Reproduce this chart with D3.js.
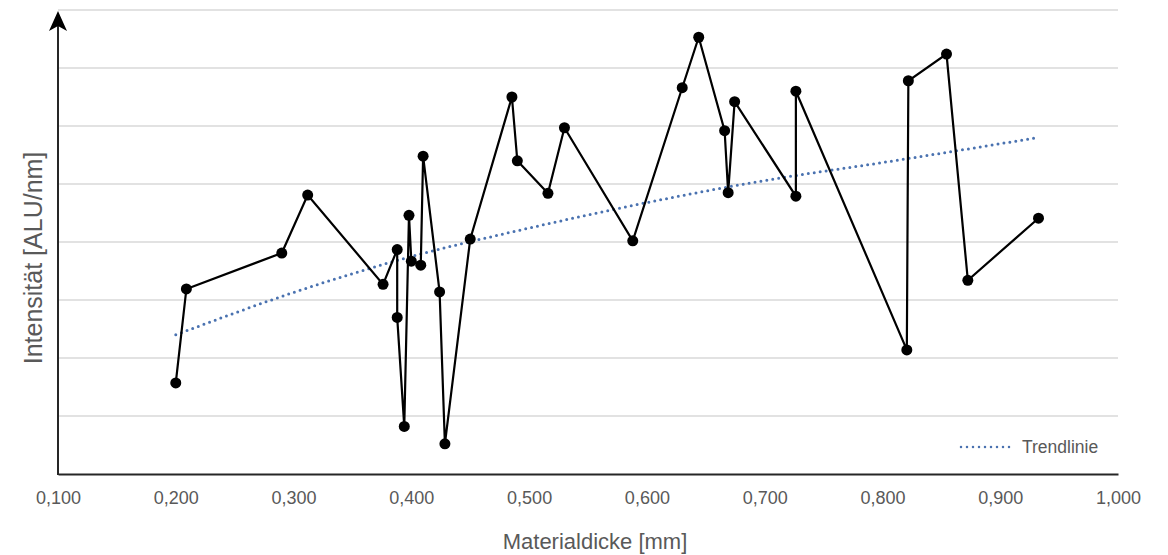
<!DOCTYPE html>
<html>
<head>
<meta charset="utf-8">
<script src="https://cdn.jsdelivr.net/npm/d3@7"></script>
<style>
  body { margin: 0; background: #fff; }
  text { font-family: "Liberation Sans", Arial, sans-serif; }
</style>
</head>
<body>
<svg id="chart" width="1168" height="555"></svg>
<script>
// measured points, in drawing order
var thickness = [0.200, 0.209, 0.290, 0.312, 0.376, 0.388, 0.388, 0.394, 0.398, 0.400,
  0.408, 0.410, 0.424, 0.4285, 0.450, 0.4854, 0.490, 0.516, 0.530, 0.588,
  0.630, 0.644, 0.666, 0.669, 0.6745, 0.7265, 0.7265, 0.8207, 0.822, 0.8544,
  0.8725, 0.9325];
var intensity = [1.57, 3.19, 3.81, 4.81, 3.27, 3.87, 2.70, 0.82, 4.46, 3.67,
  3.60, 5.48, 3.14, 0.52, 4.05, 6.50, 5.40, 4.84, 5.97, 4.02,
  6.66, 7.53, 5.92, 4.85, 6.42, 4.79, 6.60, 2.14, 6.78, 7.24,
  3.34, 4.41];

// trendline
var trendX = [0.20, 0.30, 0.40, 0.50, 0.60, 0.70, 0.80, 0.932];
var trendY = [2.40, 3.13, 3.75, 4.24, 4.68, 5.06, 5.37, 5.80];

var xTicks = [0.1, 0.2, 0.3, 0.4, 0.5, 0.6, 0.7, 0.8, 0.9, 1.0];
var yGrid = [1, 2, 3, 4, 5, 6, 7, 8];

var svg = d3.select("#chart");
var plotL = 58, plotR = 1118, plotT = 10, plotB = 474;

var x = d3.scaleLinear().domain([0.1, 1.0]).range([plotL, plotR]);
var y = d3.scaleLinear().domain([0, 8]).range([plotB, plotT]);

var fmt = function(d) { return d3.format(".3f")(d).replace(".", ","); };

// gridlines
svg.append("g")
  .selectAll("line")
  .data(yGrid)
  .join("line")
  .attr("x1", plotL).attr("x2", plotR)
  .attr("y1", d => y(d)).attr("y2", d => y(d))
  .attr("stroke", "#d9d9d9")
  .attr("stroke-width", 1.5);

// x axis
var xAxis = svg.append("g")
  .attr("transform", "translate(0," + plotB + ")")
  .call(d3.axisBottom(x).tickValues(xTicks).tickFormat(fmt).tickSize(0).tickPadding(17));
xAxis.select(".domain").attr("stroke", "#262626").attr("stroke-width", 2);
xAxis.selectAll("text")
  .attr("font-size", 18)
  .attr("fill", "#595959")
  .style("font-family", "'Liberation Sans', Arial, sans-serif");

// y axis with arrow
svg.append("line")
  .attr("x1", plotL).attr("x2", plotL)
  .attr("y1", plotB + 1).attr("y2", plotT + 8)
  .attr("stroke", "#262626")
  .attr("stroke-width", 2);
svg.append("path")
  .attr("d", "M" + plotL + "," + (plotT + 1) + " L" + (plotL + 9) + "," + (plotT + 21) +
    " L" + plotL + "," + (plotT + 16) + " L" + (plotL - 9) + "," + (plotT + 21) + " Z")
  .attr("fill", "#000");

// trendline
var trendData = trendX.map((d, i) => [d, trendY[i]]);
svg.append("path")
  .datum(trendData)
  .attr("fill", "none")
  .attr("stroke", "#4a72b0")
  .attr("stroke-width", 3)
  .attr("stroke-dasharray", "0,6")
  .attr("stroke-linecap", "round")
  .attr("d", d3.line().x(d => x(d[0])).y(d => y(d[1])).curve(d3.curveMonotoneX));

// data line and markers
var pts = thickness.map((d, i) => [d, intensity[i]]);
svg.append("path")
  .datum(pts)
  .attr("fill", "none")
  .attr("stroke", "#000")
  .attr("stroke-width", 2.2)
  .attr("d", d3.line().x(d => x(d[0])).y(d => y(d[1])));

svg.append("g")
  .selectAll("circle")
  .data(pts)
  .join("circle")
  .attr("cx", d => x(d[0]))
  .attr("cy", d => y(d[1]))
  .attr("r", 5.5)
  .attr("fill", "#000");

// legend
svg.append("line")
  .attr("x1", 961).attr("x2", 1014)
  .attr("y1", 447).attr("y2", 447)
  .attr("stroke", "#4a72b0")
  .attr("stroke-width", 2.5)
  .attr("stroke-dasharray", "0,6")
  .attr("stroke-linecap", "round");
svg.append("text")
  .attr("x", 1022).attr("y", 453)
  .attr("font-size", 17.5)
  .attr("fill", "#595959")
  .text("Trendlinie");

// axis titles
svg.append("text")
  .attr("x", 595).attr("y", 549)
  .attr("text-anchor", "middle")
  .attr("font-size", 22)
  .attr("fill", "#595959")
  .text("Materialdicke [mm]");

svg.append("text")
  .attr("transform", "translate(42,258) rotate(-90)")
  .attr("text-anchor", "middle")
  .attr("font-size", 25)
  .attr("fill", "#595959")
  .text("Intensität [ALU/nm]");
</script>
</body>
</html>
